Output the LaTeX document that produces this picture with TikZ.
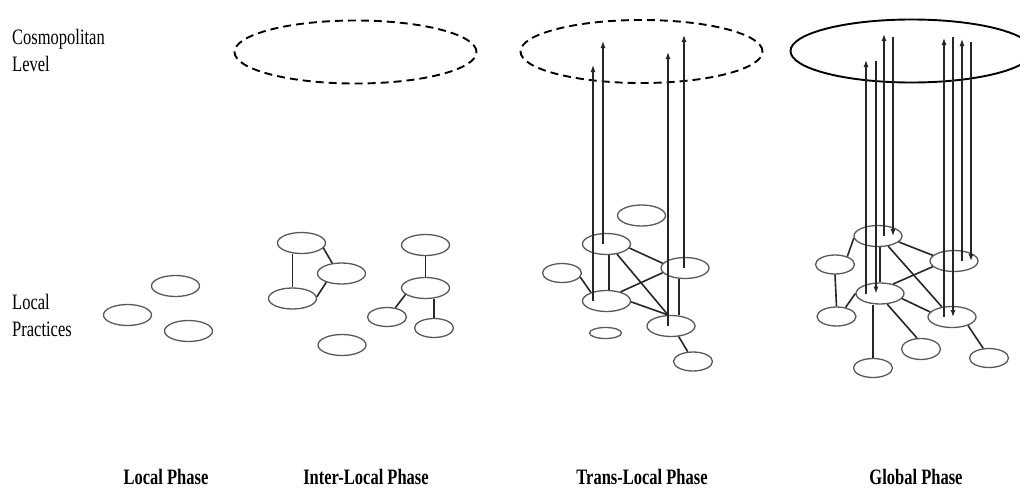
\documentclass[tikz,border=0pt]{standalone}
\usepackage{fontspec}
\setmainfont[FakeStretch=0.75]{Liberation Serif}
\usetikzlibrary{shapes.geometric,arrows.meta}
\begin{document}
\begin{tikzpicture}[x=1pt,y=-1pt,
  spot/.style={ellipse,draw=black!65,line width=1.3pt,minimum width=48pt,minimum height=21pt,inner sep=0pt},
  spotsm/.style={spot,minimum width=39pt,minimum height=19pt},
  level/.style={ellipse,draw=black,line width=1.9pt,minimum width=242pt,minimum height=63pt,inner sep=0pt},
  vague/.style={level,dash pattern=on 8pt off 5pt},
  link/.style={draw=black!85,line width=1.6pt},
  rise/.style={draw=black!85,line width=1.2pt,-{Latex[length=7pt,width=5pt]}},
  side/.style={font=\fontsize{22}{27.5}\selectfont,align=left,anchor=north west,inner sep=0pt},
  phase/.style={font=\fontsize{22}{26}\selectfont\bfseries,anchor=base,inner sep=0pt}]
\useasboundingbox (0,0) rectangle (1020,488);
\clip (0,0) rectangle (1020,488);

% row labels
\node[side] (cosmo) at (12,29) {Cosmopolitan\\Level};
\node[side] (local) at (12,294) {Local\\Practices};

% phase 1: isolated practices
\node[spot] (p1a) at (175.5,286) {};
\node[spot] (p1b) at (127.5,315) {};
\node[spot] (p1c) at (188.5,331) {};

% phase 2: linked clusters, empty upper level
\node[vague] (sky2) at (355.5,52) {};
\node[spot] (p2a) at (301.5,243) {};
\node[spot] (p2b) at (341.5,273.5) {};
\node[spot] (p2c) at (292.5,298.5) {};
\node[spot] (p2d) at (425.5,245) {};
\node[spot] (p2e) at (425.5,288) {};
\node[spotsm] (p2f) at (387,317) {};
\node[spotsm] (p2g) at (434,328) {};
\node[spot] (p2h) at (342,345) {};
\draw[link] (p2a.south -| p2c.north) -- (p2c.north);
\draw[link] (p2a.-13) -- (p2b.132);
\draw[link] (p2b.210) -- (p2c.4);
\draw[link] (p2d.south) -- (p2e.north);
\draw[link] (p2e.198) -- (p2f.48);
\draw[link] (p2e.south -| p2g.north) -- (p2g.north);

% phase 3: network with upward flows
\node[vague] (sky3) at (641.5,51.5) {};
\node[spot] (p3a) at (641.5,215.5) {};
\node[spot] (p3b) at (606.5,244) {};
\node[spot] (p3c) at (685,268) {};
\node[spotsm] (p3d) at (562,273) {};
\node[spot] (p3e) at (606.5,301) {};
\node[spot] (p3f) at (671,326) {};
\node[spot,minimum width=32pt,minimum height=11pt] (p3g) at (605.5,333) {};
\node[spotsm] (p3h) at (693,361.5) {};
\draw[link] ([xshift=2.5pt]p3b.south) -- ([xshift=2.5pt]p3e.north);
\draw[link] (p3b.-10) -- (p3c.168);
\draw[link] (p3b.-44) -- (p3f.105);
\draw[link] (p3c.192) -- (p3e.33);
\draw[link] ([xshift=-6pt]p3c.south) -- ([xshift=8pt]p3f.north);
\draw[link] (p3e.-2) -- (p3f.105);
\draw[link] (p3d.-13) -- (p3e.151);
\draw[link] (p3f.-54) -- (p3h.118);
\coordinate (t31) at (593,65);
\coordinate (t32) at (603,41);
\coordinate (t33) at (668,52);
\coordinate (t34) at (684,35);
\draw[rise] (p3e.center -| t31) -- (t31);
\draw[rise] (p3b.center -| t32) -- (t32);
\draw[rise] (p3f.center -| t33) -- (t33);
\draw[rise] (p3c.center -| t34) -- (t34);

% phase 4: network with flows in both directions
\node[level] (sky4) at (911.5,51) {};
\node[spot] (p4a) at (878,236) {};
\node[spot] (p4b) at (954,261) {};
\node[spotsm] (p4c) at (835,264.5) {};
\node[spot] (p4d) at (880,293.5) {};
\node[spotsm] (p4e) at (836.5,316.5) {};
\node[spot] (p4f) at (952,317) {};
\node[spotsm,minimum height=21pt] (p4g) at (921,349) {};
\node[spotsm] (p4h) at (989,358) {};
\node[spotsm] (p4i) at (873,368) {};
\draw[link] (p4a.185) -- (p4c.33);
\draw[link] (p4c.south) -- (p4e.north);
\draw[link] (p4e.45) -- (p4d.180);
\draw[link] (p4a.-16) -- (p4b.165);
\draw[link] (p4a.-45) -- (p4f.135);
\draw[link] (p4b.195) -- (p4d.36);
\draw[link] (p4d.-13) -- (p4f.167);
\draw[link] ([xshift=2pt]p4a.south) -- (p4d.north);
\draw[link] (p4d.south -| p4i.north) -- (p4i.north);
\draw[link] (p4d.-56) -- (p4g.110);
\draw[link] (p4f.-28) -- (p4h.121);
\coordinate (t41) at (866,60);
\coordinate (t42) at (884,34);
\coordinate (t43) at (944,38);
\coordinate (t44) at (962,39);
\coordinate (s41) at (876,61);
\coordinate (s42) at (893,37);
\coordinate (s43) at (953,37);
\coordinate (s44) at (971,42);
\draw[rise] (p4d.center -| t41) -- (t41);
\draw[rise] (p4a.center -| t42) -- (t42);
\draw[rise] (p4f.center -| t43) -- (t43);
\draw[rise] (p4b.center -| t44) -- (t44);
\draw[rise] (s41) -- (p4d.center -| s41);
\draw[rise] (s42) -- (p4a.center -| s42);
\draw[rise] (s43) -- (p4f.center -| s43);
\draw[rise] (s44) -- (p4b.center -| s44);

% phase titles
\node[phase] (ph1) at (166,484) {Local Phase};
\node[phase] (ph2) at (366,484) {Inter-Local Phase};
\node[phase] (ph3) at (642,484) {Trans-Local Phase};
\node[phase] (ph4) at (916,484) {Global Phase};
\end{tikzpicture}
\end{document}
